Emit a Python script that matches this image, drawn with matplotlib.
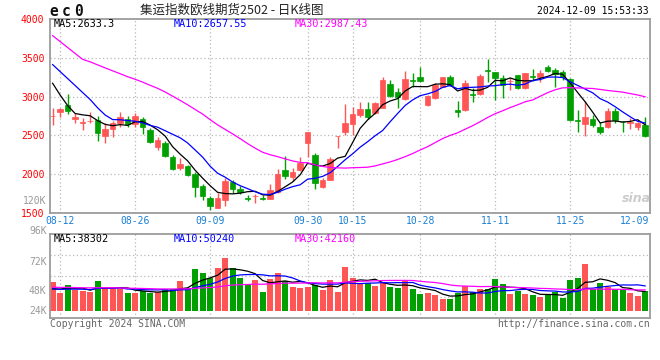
import numpy as np
import pandas as pd
import matplotlib
matplotlib.use('Agg')
from matplotlib import pyplot as plt
from matplotlib import transforms

# EC2502 daily bars, 2024-08-09 .. 2024-12-09
opens = [2745, 2798, 2893, 2708, 2656, 2685, 2699, 2492, 2578, 2656,
         2712, 2647, 2708, 2569, 2345, 2405, 2220, 2078, 2104, 2000,
         1849, 1698, 1569, 1673, 1905, 1806, 1690, 1715, 1690, 1680,
         1767, 2052, 1965, 2052, 2397, 2246, 1836, 1931, 2488, 2547,
         2647, 2763, 2837, 2785, 2858, 3165, 3065, 2970, 3210, 3259,
         2893, 2980, 3130, 3259, 2828, 2828, 3035, 3031, 3337, 3316,
         3246, 3198, 3272, 3109, 3264, 3259, 3376, 3346, 3316, 3225,
         2695, 2647, 2708, 2612, 2604, 2819, 2677, 2660, 2612, 2634]
highs = [2850, 2850, 3035, 2785, 2721, 2806, 2750, 2656, 2690, 2798,
         2750, 2785, 2741, 2591, 2475, 2431, 2250, 2203, 2116, 2030,
         1880, 1715, 1758, 1957, 1922, 1845, 1728, 1741, 1737, 1871,
         2065, 2233, 2074, 2216, 2547, 2276, 1957, 2224, 2498, 2906,
         2863, 2936, 2936, 2936, 3251, 3216, 3109, 3324, 3302, 3380,
         3022, 3174, 3259, 3272, 2948, 3216, 3109, 3289, 3488, 3320,
         3272, 3246, 3281, 3302, 3358, 3345, 3410, 3367, 3346, 3238,
         2828, 2948, 2763, 2677, 2850, 2850, 2690, 2721, 2677, 2734]
lows = [2634, 2741, 2776, 2664, 2569, 2656, 2431, 2405, 2475, 2612,
        2604, 2612, 2518, 2397, 2311, 2216, 2052, 2052, 1974, 1706,
        1664, 1543, 1569, 1586, 1758, 1750, 1655, 1629, 1664, 1680,
        1758, 1939, 1913, 2043, 2224, 1815, 1828, 1922, 2340, 2505,
        2501, 2734, 2708, 2776, 2850, 3000, 2858, 2957, 3130, 3194,
        2884, 2970, 3122, 3143, 2737, 2815, 2936, 3018, 3194, 2958,
        2980, 3087, 3100, 3100, 3203, 3194, 3316, 3130, 3216, 2690,
        2547, 2492, 2612, 2518, 2591, 2656, 2547, 2578, 2569, 2483]
closes = [2750, 2841, 2819, 2741, 2673, 2692, 2527, 2578, 2656, 2741,
          2643, 2754, 2608, 2418, 2440, 2237, 2069, 2129, 1987, 1836,
          1724, 1586, 1698, 1909, 1815, 1771, 1682, 1722, 1682, 1793,
          2009, 1983, 2030, 2146, 2543, 1887, 1922, 2190, 2495, 2656,
          2776, 2837, 2734, 2915, 3216, 3013, 2992, 3225, 3205, 3207,
          3009, 3152, 3251, 3152, 2798, 3174, 3026, 3268, 3330, 3246,
          3152, 3207, 3109, 3302, 3255, 3302, 3333, 3295, 3251, 2702,
          2686, 2734, 2630, 2547, 2819, 2699, 2669, 2668, 2656, 2492]
vols = [58, 36, 51, 41, 39, 38, 59, 47, 43, 43,
        36, 36, 40, 36, 38, 43, 43, 59, 46, 83,
        75, 65, 86, 106, 86, 66, 51, 61, 38, 63,
        76, 60, 48, 46, 48, 51, 41, 61, 38, 88,
        66, 55, 56, 50, 55, 48, 45, 59, 43, 33,
        36, 31, 23, 23, 35, 49, 38, 43, 43, 63,
        53, 33, 39, 33, 31, 28, 31, 38, 26, 61,
        66, 93, 43, 55, 47, 43, 43, 36, 30, 40]  # thousand lots

# sessions before 08-09 (only feed the moving averages)
prior_close = [5150, 5100, 5050, 4950, 3650, 3700, 3750, 3800, 3850, 3800,
               3750, 3700, 3650, 3600, 3650, 3700, 3750, 3700, 3650, 3504,
               3741, 3719, 3641, 3573, 3592, 3600, 3500, 3250, 2760]
prior_vol = [52, 47, 55, 49, 44, 51, 48, 46, 53, 50, 45, 49, 47, 52, 48,
             44, 50, 46, 49, 51, 47, 45, 42, 40, 44, 39, 41, 43, 38]

tick_dates = ['08-12', '08-26', '09-09', '09-30', '10-15', '10-28', '11-11', '11-25', '12-09']
ma_price_txt = ['MA5:2633.3', 'MA10:2657.55', 'MA30:2987.43']
ma_vol_txt = ['MA5:38302', 'MA10:50240', 'MA30:42160']
vol_labels = ['96K', '72K', '48K', '24K']

days = pd.bdate_range('2024-08-09', '2024-12-09')
holidays = pd.to_datetime(['2024-09-16', '2024-09-17', '2024-10-01', '2024-10-02',
                           '2024-10-03', '2024-10-04', '2024-10-07'])
days = days[~days.isin(holidays)]
day_lbl = list(days.strftime('%m-%d'))
tick_idx = [day_lbl.index(d) for d in tick_dates]

opens = np.array(opens); closes = np.array(closes)
highs = np.array(highs); lows = np.array(lows)
vols = np.array(vols) * 1000.0
x = np.arange(len(closes))

def ma(prior, vals, n):
    s = pd.Series(list(prior) + list(vals))
    return s.rolling(n).mean().values[len(prior):]

RED = '#ff5555'
GREEN = '#00a000'
GRID = '#b8b8b8'
FRAME = '#9c9c9c'
MONO = 'DejaVu Sans Mono'
up = closes >= opens
cols = np.where(up, RED, GREEN)

W, H = 660, 360
def fx(px):
    return px / W
def fy(py):
    return 1 - py / H

fig = plt.figure(figsize=(6.6, 3.6), dpi=100)
ax = fig.add_axes([fx(50), fy(213), 600 / W, 194 / H])
axv = fig.add_axes([fx(50), fy(318), 600 / W, 84 / H])

# price panel
ax.vlines(x, lows, highs, colors=cols, lw=1, zorder=2)
ax.bar(x, np.abs(closes - opens), bottom=np.minimum(opens, closes), width=0.76,
       color=cols, edgecolor=cols, lw=0.5, zorder=3)
ax.plot(x, ma(prior_close, closes, 5), color='black', lw=0.9, zorder=4)
ax.plot(x, ma(prior_close, closes, 10), color='#0000ff', lw=0.9, zorder=4)
ax.plot(x, ma(prior_close, closes, 30), color='#ff00ff', lw=0.9, zorder=4)
ax.set_xlim(-0.35, len(x) - 0.35)
ax.set_ylim(1500, 4000)
for p in [2000, 2500, 3000, 3500]:
    ax.axhline(p, color=GRID, lw=0.9, ls=(0, (1, 2)), zorder=1)

# volume panel
axv.bar(x, vols, width=0.8, color=cols, lw=0, zorder=2)
axv.plot(x, ma(prior_vol, vols / 1000.0, 5) * 1000, color='black', lw=0.9, zorder=4)
axv.plot(x, ma(prior_vol, vols / 1000.0, 10) * 1000, color='#0000ff', lw=0.9, zorder=4)
axv.plot(x, ma(prior_vol, vols / 1000.0, 30) * 1000, color='#ff00ff', lw=0.9, zorder=4)
axv.set_xlim(ax.get_xlim())
axv.set_ylim(-14600, 153400)
lo, hi = axv.get_ylim()
for k in [1, 2, 3]:
    axv.axhline(lo + (hi - lo) * k / 4, color=GRID, lw=0.9, ls=(0, (1, 2)), zorder=1)

for a in (ax, axv):
    for t in tick_idx[:-1]:
        a.axvline(t, color=GRID, lw=0.9, ls=(0, (1, 2)), zorder=1)
    for s in a.spines.values():
        s.set_color(FRAME)
        s.set_linewidth(1.3)
    a.tick_params(length=0)

ax.set_yticks(range(1500, 4001, 500))
ax.set_yticklabels([str(v) for v in range(1500, 4001, 500)], color='#ff0000',
                   family=MONO, fontsize=7)
ax.tick_params(axis='y', pad=4)
ax.set_xticks(tick_idx)
ax.set_xticklabels(tick_dates, color='#1a7fd4', family=MONO, fontsize=7)
ax.tick_params(axis='x', pad=2)
lab = ax.get_xticklabels()[-1]
lab.set_ha('right')
lab.set_transform(lab.get_transform() + transforms.ScaledTranslation(4 / 100, 0, fig.dpi_scale_trans))

axv.set_xticks(tick_idx)
axv.set_xticklabels([])
axv.set_yticks([])

# volume axis labels, placed where the reference has them
for lbl, py in zip(vol_labels, [231, 262, 291, 311]):
    fig.text(fx(46.5), fy(py), lbl, color='#999999', family=MONO, fontsize=7,
             ha='right', va='center')
fig.text(fx(46.5), fy(200.5), '120K', color='#999999', family=MONO, fontsize=7,
         ha='right', va='center')

# header texts
for ch, px in zip('ec0', [49, 61.5, 74]):
    fig.text(fx(px), fy(11.5), ch, family=MONO, fontsize=10.5, weight='bold',
             ha='left', va='center', color='#111111')
fig.text(fx(140), fy(10.5), '集运指数欧线期货2502 - 日K线图',
         family=['Noto Sans CJK SC', 'DejaVu Sans'], fontsize=9,
         ha='left', va='center', color='#222222')
fig.text(fx(649), fy(11.5), '2024-12-09 15:53:33', family=MONO, fontsize=7,
         ha='right', va='center', color='black')

for txt, px, c in zip(ma_price_txt, [54, 174, 295], ['black', '#0000ff', '#ff00ff']):
    fig.text(fx(px), fy(24), txt, family=MONO, fontsize=7.3, color=c,
             ha='left', va='center')
for txt, px, c in zip(ma_vol_txt, [54, 174, 295], ['black', '#0000ff', '#ff00ff']):
    fig.text(fx(px), fy(239), txt, family=MONO, fontsize=7.3, color=c,
             ha='left', va='center')

fig.text(fx(50), fy(324), 'Copyright 2024 SINA.COM', family=MONO, fontsize=7,
         color='#666666', ha='left', va='center')
fig.text(fx(650), fy(324), 'http://finance.sina.com.cn', family=MONO, fontsize=7,
         color='#666666', ha='right', va='center')
fig.text(fx(636), fy(198), 'sina', fontsize=9, style='italic', weight='bold',
         color='#cccccc', ha='center', va='center')

fig.savefig('out.png', dpi=100, facecolor='white')
